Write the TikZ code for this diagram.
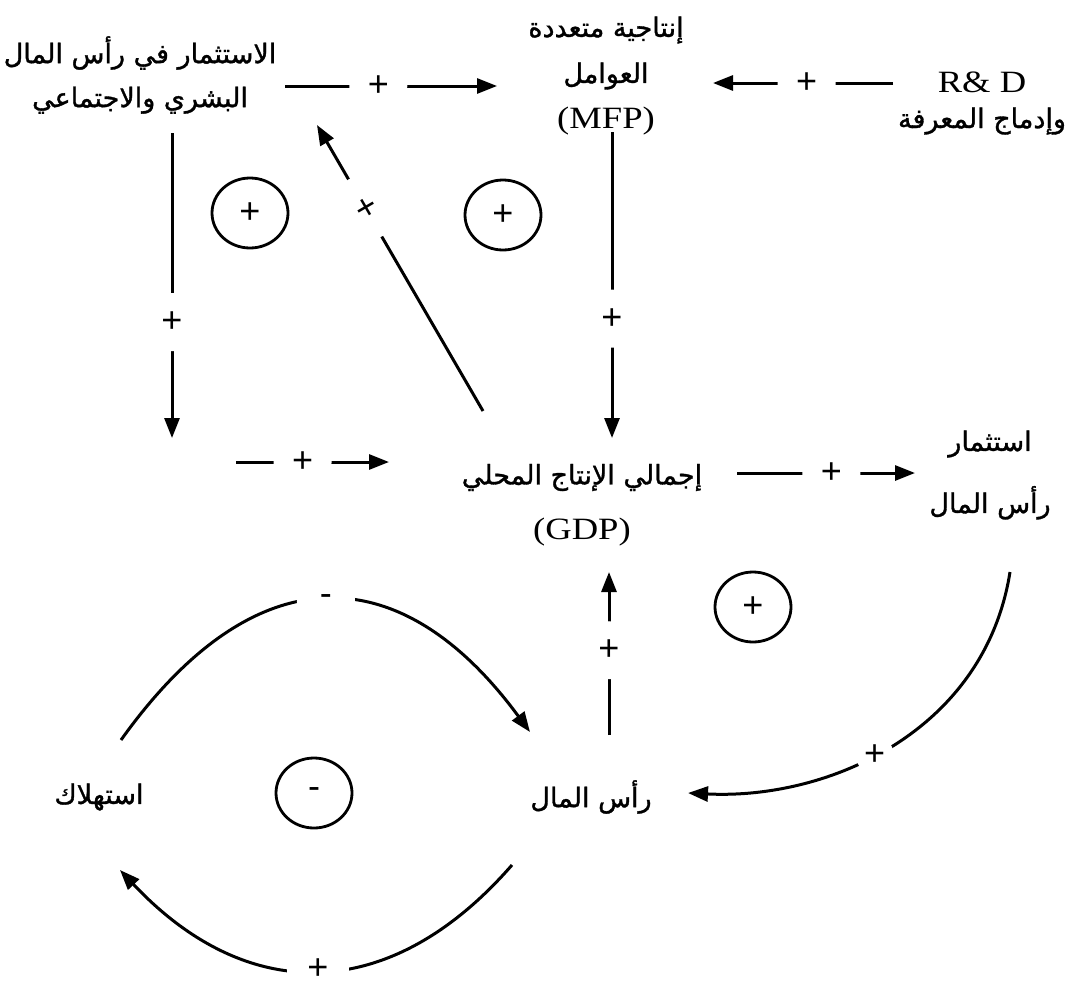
\documentclass[tikz,border=0pt]{standalone}
\usepackage{fontspec}
\setmainfont{Liberation Sans}
\newfontfamily\arfont[Script=Arabic,FakeBold=1.2]{DejaVu Sans}
\newfontfamily\lafont[FakeStretch=1.18]{Liberation Serif}
\TeXXeTstate=1
\usetikzlibrary{arrows.meta,shapes.geometric}

\begin{document}
\begin{tikzpicture}[
    x=1pt, y=-1pt,
    concept/.style={align=center, inner sep=0pt, font=\arfont\fontsize{27pt}{44pt}\selectfont},
    loopmark/.style={draw, ellipse, line width=2.8pt, minimum width=76pt, minimum height=70pt, inner sep=0pt, font=\fontsize{36pt}{36pt}\selectfont},
    link/.style={line width=3pt, -{Triangle[length=20pt,width=15pt]}},
    sgn/.style={circle, fill=white, inner sep=0pt, minimum size=58pt, font=\fontsize{36pt}{36pt}\selectfont},
    sgnsmall/.style={sgn, minimum size=38pt},
    sgnflat/.style={sgn, rectangle, minimum width=62pt, minimum height=22pt},
]
    \useasboundingbox (0,0) rectangle (1076,988);

    % variables
    \node[concept] (hsc) at (140,75) {\beginR الاستثمار في رأس المال\endR\\\beginR البشري والاجتماعي\endR};
    \node[concept] (mfp) at (606,76) {\beginR إنتاجية متعددة\endR\\[2pt]\beginR العوامل\endR\\[2pt]{\lafont\fontsize{31pt}{44pt}\selectfont (MFP)}};
    \node[concept] (rd) at (982,103) {{\lafont\fontsize{31pt}{44pt}\selectfont R\& D}\\[-8pt]\beginR وإدماج المعرفة\endR};
    \node[concept] (gdp) at (582,505) {\beginR إجمالي الإنتاج المحلي\endR\\[11pt]{\lafont\fontsize{31pt}{44pt}\selectfont (GDP)}};
    \node[concept] (ki) at (990,475) {\beginR استثمار\endR\\[18pt]\beginR رأس المال\endR};
    \node[concept] (cap) at (591,797) {\beginR رأس المال\endR};
    \node[concept] (cons) at (99,797) {\beginR استهلاك\endR};

    % loop polarities
    \node[loopmark] (loopa) at (250,213) {+};
    \node[loopmark] (loopb) at (503,215) {+};
    \node[loopmark] (loopc) at (753,607) {+};
    \node[loopmark] (loopd) at (314,793) {-};

    % free ends of the left branch
    \coordinate (hscdrop) at (172,438);
    \coordinate (gdpfeed) at (236,462);

    % upper links
    \draw[link] ([shift={(145,11)}]hsc.center) -- node[sgn, pos=0.44] {+} ([shift={(-109,10)}]mfp.center);
    \draw[link] ([shift={(-89,-20)}]rd.center) -- node[sgn, pos=0.48] {+} ([shift={(107,7)}]mfp.center);
    \draw[link] ([shift={(32,58)}]hsc.center) -- node[sgn, pos=0.62] {+} (hscdrop);
    \draw[link] (gdpfeed) -- node[sgn, pos=0.435] {+} ([shift={(-193,-43)}]gdp.center);
    \draw[link] ([shift={(6,56)}]mfp.center) -- node[sgn, pos=0.61] {+} ([shift={(30,-67)}]gdp.center);
    \draw[link] ([shift={(-99,-94)}]gdp.center) -- node[sgn, sloped, minimum size=66pt, pos=0.71] {+} ([shift={(177,50)}]hsc.center);

    % lower links
    \draw[link] ([shift={(155,-32)}]gdp.center) -- node[sgn, pos=0.53] {+} ([shift={(-75,-2)}]ki.center);
    \draw[link] ([shift={(20,97)}]ki.center) .. controls +(-25,158) and +(142,7) .. node[sgnsmall, pos=0.55] {+} ([shift={(97,-4)}]cap.center);
    \draw[link] ([shift={(18,-62)}]cap.center) -- node[sgn, pos=0.52] {+} ([shift={(18,-225)}]cap.center);
    \draw[link] ([shift={(22,-57)}]cons.center) .. controls +(132,-185) and +(-131,-178) .. node[sgn, pos=0.5] {-} ([shift={(-61,-65)}]cap.center);
    \draw[link] ([shift={(-79,68)}]cap.center) .. controls +(-122,140) and +(127,135) .. node[sgnflat, pos=0.5, yshift=2pt] {+} ([shift={(21,73)}]cons.center);
\end{tikzpicture}
\end{document}
